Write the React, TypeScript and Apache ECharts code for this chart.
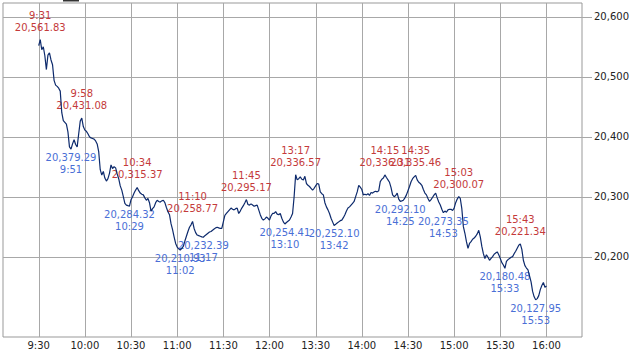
import React, { useEffect, useRef } from "react";
import * as echarts from "echarts";

// Trading minutes since 9:30 (lunch 12:00-13:00 removed; index 150 = 12:00/13:00)
const prices: number[] = [
  20552, 20561.83, 20545, 20550, 20535, 20512, 20536, 20540, 20528, 20520,
  20494, 20486, 20484, 20481, 20476, 20440, 20427, 20424, 20421, 20408,
  20383, 20379.29, 20388, 20395, 20387, 20383, 20405, 20426, 20431.08, 20417,
  20411, 20409, 20405, 20400, 20398, 20397, 20396, 20393, 20388, 20375,
  20345, 20336, 20342, 20331, 20326, 20330, 20339, 20353, 20347, 20350,
  20348, 20338, 20330, 20318, 20311, 20300, 20289, 20286, 20285, 20284.32,
  20295, 20300, 20306, 20311, 20315.37, 20310, 20306, 20304, 20303, 20298,
  20294, 20297, 20290, 20276, 20280, 20283, 20290, 20294, 20292, 20291,
  20293, 20294, 20290, 20282, 20275, 20270, 20255, 20245, 20233, 20222,
  20216, 20213, 20210.93, 20214, 20217, 20226, 20234, 20242, 20249, 20253,
  20258.77, 20247, 20240, 20236, 20235, 20234, 20233, 20232.39, 20235, 20237,
  20239, 20241, 20242, 20244, 20246, 20248, 20249, 20248, 20247, 20247,
  20258, 20269, 20272, 20275, 20278, 20281, 20279, 20278, 20280, 20281,
  20272, 20276, 20281, 20285, 20290, 20295.17, 20287, 20286, 20288, 20286,
  20284, 20285, 20286, 20278, 20270, 20264, 20261, 20263, 20266, 20264,
  20261, 20268, 20272, 20272, 20275, 20271, 20270, 20272, 20264, 20258,
  20254.41, 20257, 20259, 20261, 20266, 20272, 20300, 20336.57, 20328, 20330,
  20333, 20329, 20328, 20334, 20322, 20319, 20317, 20314, 20311, 20314,
  20318, 20322, 20321, 20308, 20305, 20303, 20290, 20283, 20278, 20272,
  20264, 20258, 20252.1, 20254, 20256, 20258, 20260, 20261, 20265, 20270,
  20276, 20281, 20283, 20286, 20289, 20292, 20300, 20308, 20319, 20316,
  20312, 20303, 20304, 20303, 20305, 20302, 20307, 20306, 20308, 20309,
  20308, 20310, 20325, 20329, 20331, 20336.31, 20332, 20328, 20324, 20315,
  20303, 20300, 20302, 20306, 20296, 20292.1, 20293, 20294, 20298, 20303,
  20310, 20317, 20325, 20330, 20333, 20335.46, 20328, 20324, 20322, 20319,
  20312, 20306, 20303, 20297, 20292, 20295, 20299, 20303, 20306, 20298,
  20291, 20286, 20279, 20273.35, 20276, 20274, 20278, 20279, 20279, 20277,
  20281, 20290, 20296, 20300.07, 20297, 20280, 20250, 20239, 20225, 20214,
  20222, 20225, 20229, 20231, 20234, 20238, 20244, 20233, 20217, 20205,
  20197, 20203, 20199, 20194, 20197, 20200, 20204, 20206, 20208, 20203,
  20197, 20190, 20186, 20180.48, 20192, 20195, 20197, 20199, 20200, 20205,
  20209, 20214, 20219, 20221.34, 20212, 20194, 20185, 20181, 20178, 20168,
  20158, 20142, 20133, 20127.95, 20130, 20135, 20145, 20152, 20157, 20149,
  20151,
];

const highTimes = ["9:31", "9:58", "10:34", "11:10", "11:45", "13:17", "14:15", "14:35", "15:03", "15:43"];
const highValues = [20561.83, 20431.08, 20315.37, 20258.77, 20295.17, 20336.57, 20336.31, 20335.46, 20300.07, 20221.34];
const lowTimes = ["9:51", "10:29", "11:02", "11:17", "13:10", "13:42", "14:25", "14:53", "15:33", "15:53"];
const lowValues = [20379.29, 20284.32, 20210.93, 20232.39, 20254.41, 20252.1, 20292.1, 20273.35, 20180.48, 20127.95];

const xTickLabels = ["9:30", "10:00", "10:30", "11:00", "11:30", "12:00", "13:30", "14:00", "14:30", "15:00", "15:30", "16:00"];
const yTicks = [20200, 20300, 20400, 20500, 20600];

const FONT = "DejaVu Sans";
const GRID_COLOR = "#a8a8a8";

function toT(s: string): number {
  const [h, m] = s.split(":").map(Number);
  const mins = h * 60 + m;
  return mins >= 780 ? 150 + (mins - 780) : mins - 570;
}

const fmt = (v: number) =>
  v.toLocaleString("en-US", { minimumFractionDigits: 2, maximumFractionDigits: 2 });

export default function App() {
  const ref = useRef<HTMLDivElement>(null);
  useEffect(() => {
    if (!ref.current) return;
    const chart = echarts.init(ref.current, undefined, { renderer: "svg" });
    const lineData = prices.map((v, i) => [i, v]);
    const xTickValues = xTickLabels.map((_, i) => i * 30);
    const highMarks = highTimes.map((s, i) => ({
      coord: [toT(s), highValues[i]],
      value: highValues[i],
      label: { formatter: `${s}\n${fmt(highValues[i])}`, color: "#c43a3a", position: "top", distance: 6 },
    }));
    const lowMarks = lowTimes.map((s, i) => ({
      coord: [toT(s), lowValues[i]],
      value: lowValues[i],
      label: { formatter: `${fmt(lowValues[i])}\n${s}`, color: "#4a6fd6", position: "bottom", distance: 2 },
    }));
    chart.setOption({
      animation: false,
      backgroundColor: "#ffffff",
      grid: { left: 3, right: 51, top: 3, bottom: 17, show: true, borderColor: "#999", borderWidth: 1 },
      xAxis: {
        type: "value",
        min: -23.2,
        max: 353.1,
        splitNumber: 12,
        axisLine: { show: false },
        axisTick: { show: false },
        splitLine: { show: false },
        axisLabel: {
          showMinLabel: false,
          showMaxLabel: false,
          margin: 3,
          fontFamily: FONT,
          fontSize: 10,
          color: "#222",
          formatter: (v: number) => {
            const r = Math.round(v);
            if (Math.abs(v - r) > 0.01) return "";
            const idx = xTickValues.indexOf(r);
            return idx >= 0 ? xTickLabels[idx] : "";
          },
        },
      },
      yAxis: {
        type: "value",
        position: "right",
        min: 20066,
        max: 20623,
        splitNumber: 5,
        axisLine: { show: false },
        axisTick: { show: false },
        splitLine: { show: false },
        axisLabel: {
          showMinLabel: false,
          showMaxLabel: false,
          margin: 12,
          fontFamily: FONT,
          fontSize: 10,
          color: "#222",
          formatter: (v: number) =>
            yTicks.includes(Math.round(v)) && Math.abs(v - Math.round(v)) < 0.01
              ? Math.round(v).toLocaleString("en-US")
              : "",
        },
      },
      series: [
        {
          type: "line",
          z: 5,
          data: lineData,
          showSymbol: false,
          lineStyle: { color: "#0d2a6c", width: 1.2 },
          itemStyle: { color: "#0d2a6c" },
          markPoint: {
            symbol: "circle",
            symbolSize: 1,
            itemStyle: { color: "rgba(0,0,0,0)" },
            label: { show: true, fontFamily: FONT, fontSize: 10, lineHeight: 12, align: "center" },
            data: [...highMarks, ...lowMarks],
          },
        },
      ],
    });
    const left = 3;
    const right = 633 - 51;
    const top = 3;
    const bottom = 354 - 17;
    const gridLines: any[] = [];
    yTicks.forEach((v) => {
      const y = Math.round(chart.convertToPixel({ yAxisIndex: 0 }, v) as number) + 0.5;
      gridLines.push({
        type: "line", z: 0, silent: true,
        shape: { x1: left, y1: y, x2: right + 10, y2: y },
        style: { stroke: GRID_COLOR, lineWidth: 1 },
      });
    });
    xTickValues.forEach((t) => {
      const x = Math.round(chart.convertToPixel({ xAxisIndex: 0 }, t) as number) + 0.5;
      gridLines.push({
        type: "line", z: 0, silent: true,
        shape: { x1: x, y1: top, x2: x, y2: bottom },
        style: { stroke: GRID_COLOR, lineWidth: 1 },
      });
    });
    chart.setOption({
      graphic: [
        ...gridLines,
        { type: "rect", shape: { x: 63, y: 0, width: 16, height: 1.5 }, style: { fill: "#333" } },
      ],
    });
    return () => chart.dispose();
  }, []);
  return (
    <div
      ref={ref}
      style={{ position: "fixed", left: 0, top: 0, width: 633, height: 354, background: "#fff" }}
    />
  );
}
